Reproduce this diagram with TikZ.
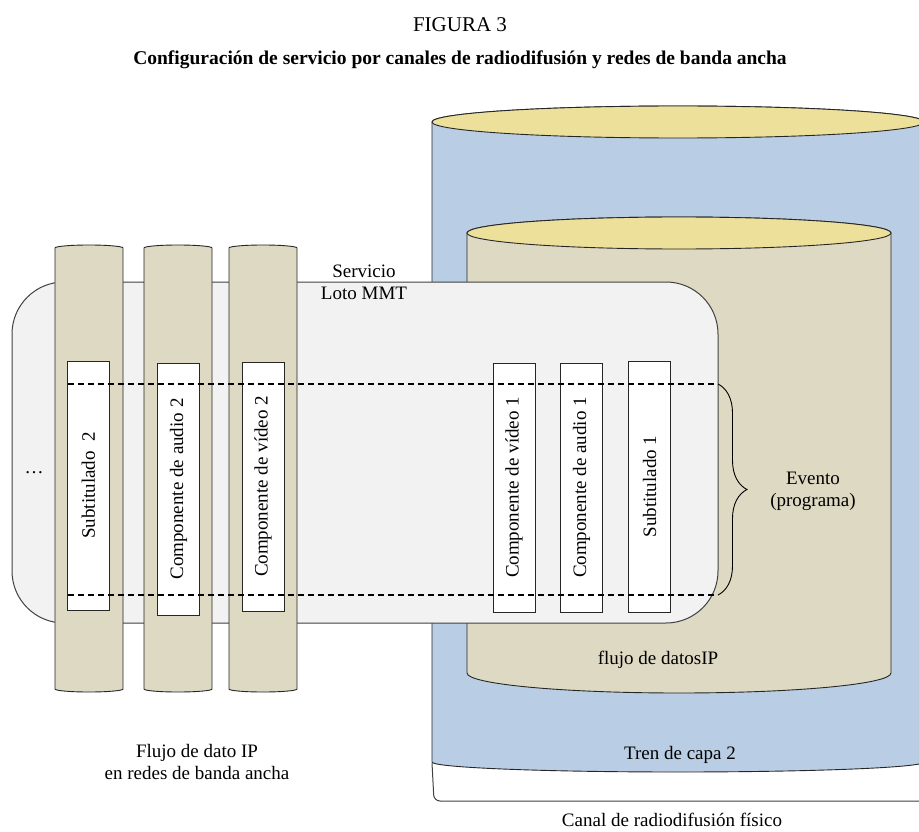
\documentclass[tikz,border=0pt]{standalone}
\usepackage{fontspec}
\setmainfont{Liberation Serif}
\usetikzlibrary{decorations.pathreplacing}
\definecolor{capa}{HTML}{B9CDE5}
\definecolor{tapa}{HTML}{EDE09B}
\definecolor{flujo}{HTML}{DDD9C3}
\definecolor{serv}{HTML}{F2F2F2}

\begin{document}
\begin{tikzpicture}[x=1pt,y=-1pt,
    txt/.style={font=\fontsize{19}{22}\selectfont, align=center, inner sep=0pt},
    comp/.style={txt, draw=black!85, fill=white, line width=0.8pt, rotate=90, minimum height=42pt},
    cyl/.style={draw=black!85, line width=0.9pt},
    evt/.style={dash pattern=on 6pt off 4pt, line width=1.4pt}]
  \useasboundingbox (0,0) rectangle (919,832);
  \clip (0,0) rectangle (919,832);
  \node[txt, font=\fontsize{21}{24}\selectfont] (t1) at (460,25) {FIGURA 3};
  \node[txt, font=\fontsize{19.5}{22}\selectfont\bfseries] (t2) at (460,60)
    {Configuración de servicio por canales de radiodifusión y redes de banda ancha};
  \fill[capa, cyl, draw] (432,122) -- (432,762) arc[start angle=180, end angle=360, x radius=246pt, y radius=10pt]
    -- (924,122) arc[start angle=0, end angle=180, x radius=246pt, y radius=16pt] -- cycle;
  \draw[cyl, fill=tapa] (678,122) ellipse[x radius=246pt, y radius=16pt];
  \fill[flujo, cyl, draw] (467,233) -- (467,673) arc[start angle=180, end angle=360, x radius=212pt, y radius=20pt]
    -- (891,233) arc[start angle=0, end angle=180, x radius=212pt, y radius=16pt] -- cycle;
  \draw[cyl, fill=tapa] (679,233) ellipse[x radius=212pt, y radius=16pt];
  \draw[draw=black!75, fill=serv, line width=1pt, rounded corners=52pt] (12,282) rectangle (718,623);
  \foreach \xa/\xb in {55/123, 144/212, 229/297}
    \fill[flujo, cyl, draw] (\xa,248) -- (\xa,689) arc[start angle=180, end angle=360, x radius=34pt, y radius=3pt]
      -- (\xb,248) arc[start angle=0, end angle=180, x radius=34pt, y radius=3pt] -- cycle;
  \node[comp, minimum width=249pt] (s2) at (88.5,485.5) {Subtitulado\ \ 2};
  \node[comp, minimum width=252pt] (a2) at (178.5,489) {Componente de audio 2};
  \node[comp, minimum width=249pt] (v2) at (263,486.5) {Componente de vídeo 2};
  \node[comp, minimum width=249pt] (v1) at (514,487.5) {Componente de vídeo 1};
  \node[comp, minimum width=249pt] (a1) at (581.5,487.5) {Componente de audio 1};
  \node[comp, minimum width=251pt] (s1) at (649.5,486.5) {Subtitulado 1};
  \coordinate (e1) at (718,384);
  \coordinate (e2) at (718,595);
  \draw[evt] (68,384) -- (e1);
  \draw[evt] (68,595) -- (e2);
  \draw[line width=0.9pt, decorate, decoration={brace, amplitude=29pt}] (e1) -- (e2);
  \node[txt] (ev) at (813,491) {Evento\\(programa)};
  \node[txt] (sv) at (364,282) {Servicio\\Loto MMT};
  \node[txt] (dt) at (34,473) {\dots};
  \node[txt] (fd) at (658,660) {flujo de datosIP};
  \node[txt] (tc) at (680,755) {Tren de capa 2};
  \node[txt] (fb) at (197,762) {Flujo de dato IP\\en redes de banda ancha};
  \coordinate (c1) at (432,763);
  \coordinate (c2) at (919,801);
  \draw[black!75, line width=1pt, rounded corners=6pt] (c1) -- (434,801) -- (c2);
  \node[txt] (cf) at (672,820) {Canal de radiodifusión físico};
\end{tikzpicture}
\end{document}
